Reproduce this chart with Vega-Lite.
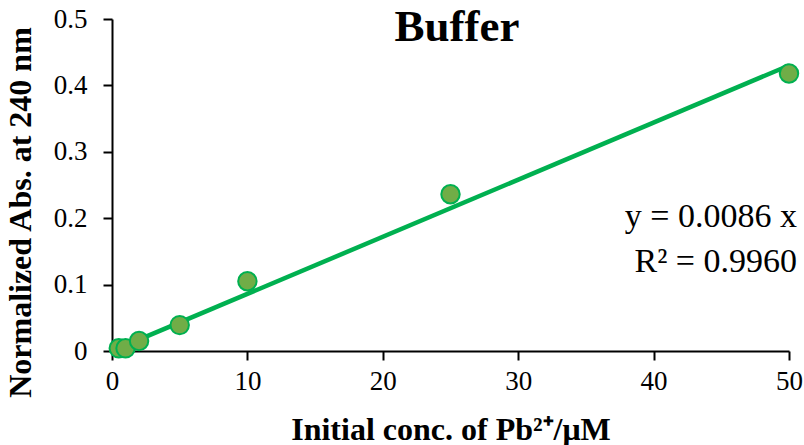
{
  "$schema": "https://vega.github.io/schema/vega-lite/v6.json",
  "width": 677,
  "height": 332,
  "autosize": {"type": "none"},
  "padding": {"left": 112, "top": 19, "right": 15, "bottom": 94},
  "background": "white",
  "config": {
    "view": {"stroke": null},
    "axis": {
      "domainColor": "black",
      "domainWidth": 2,
      "tickColor": "black",
      "tickWidth": 2,
      "tickSize": 9,
      "grid": false,
      "labelFlush": false,
      "labelFont": "Liberation Serif",
      "labelFontSize": 27,
      "labelColor": "black",
      "titleFont": "Liberation Serif",
      "titleFontSize": 32,
      "titleFontWeight": "bold",
      "titleColor": "black"
    }
  },
  "datasets": {
    "measured": [
      {"conc": 0.5, "abs": 0.004},
      {"conc": 1, "abs": 0.004},
      {"conc": 2, "abs": 0.015},
      {"conc": 5, "abs": 0.039},
      {"conc": 10, "abs": 0.105},
      {"conc": 25, "abs": 0.236},
      {"conc": 50, "abs": 0.418}
    ],
    "fit": [
      {"conc": 0.5, "abs": 0.0043},
      {"conc": 50, "abs": 0.43}
    ]
  },
  "layer": [
    {
      "data": {"name": "fit"},
      "mark": {"type": "line", "color": "#00B050", "strokeWidth": 4.5},
      "encoding": {
        "x": {
          "field": "conc",
          "type": "quantitative",
          "scale": {"domain": [0, 50], "nice": false},
          "axis": {
            "values": [0, 10, 20, 30, 40, 50],
            "labelPadding": 8,
            "title": "Initial conc. of Pb²⁺/μM",
            "titleBaseline": "alphabetic",
            "titleY": 88
          }
        },
        "y": {
          "field": "abs",
          "type": "quantitative",
          "scale": {"domain": [0, 0.5], "nice": false},
          "axis": {
            "values": [0, 0.1, 0.2, 0.3, 0.4, 0.5],
            "format": ".1~f",
            "labelPadding": 16,
            "title": "Normalized Abs. at 240 nm",
            "titleAngle": -90,
            "titleBaseline": "middle",
            "titleAlign": "center",
            "titleX": -92,
            "titleY": 193
          }
        }
      }
    },
    {
      "data": {"name": "measured"},
      "mark": {
        "type": "point",
        "shape": "circle",
        "filled": true,
        "size": 340,
        "fill": "#70AD47",
        "stroke": "#00B050",
        "strokeWidth": 2,
        "opacity": 1
      },
      "encoding": {
        "x": {"field": "conc", "type": "quantitative"},
        "y": {"field": "abs", "type": "quantitative"}
      }
    },
    {
      "data": {"values": [{}]},
      "mark": {
        "type": "text",
        "text": "Buffer",
        "font": "Liberation Serif",
        "fontSize": 45,
        "fontWeight": "bold",
        "align": "center",
        "baseline": "alphabetic",
        "color": "black"
      },
      "encoding": {
        "x": {"datum": 25.48, "type": "quantitative"},
        "y": {"datum": 0.4676, "type": "quantitative"}
      }
    },
    {
      "data": {"values": [{}]},
      "mark": {
        "type": "text",
        "text": "y = 0.0086 x",
        "font": "Liberation Serif",
        "fontSize": 34,
        "align": "right",
        "baseline": "alphabetic",
        "color": "black",
        "dx": 8
      },
      "encoding": {
        "x": {"datum": 50, "type": "quantitative"},
        "y": {"datum": 0.1875, "type": "quantitative"}
      }
    },
    {
      "data": {"values": [{}]},
      "mark": {
        "type": "text",
        "text": "R² = 0.9960",
        "font": "Liberation Serif",
        "fontSize": 34,
        "align": "right",
        "baseline": "alphabetic",
        "color": "black",
        "dx": 8
      },
      "encoding": {
        "x": {"datum": 50, "type": "quantitative"},
        "y": {"datum": 0.1197, "type": "quantitative"}
      }
    }
  ]
}
